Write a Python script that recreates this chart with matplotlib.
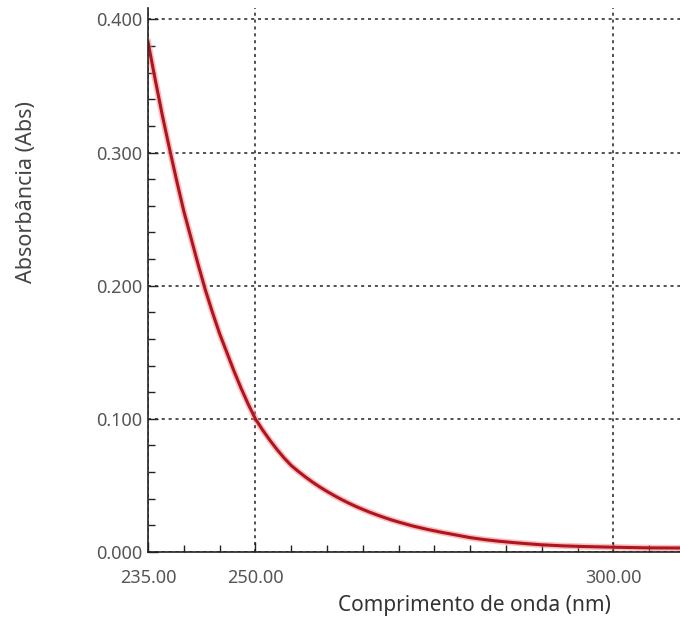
import numpy as np
import matplotlib.pyplot as plt
from matplotlib.ticker import MultipleLocator, FixedLocator

plt.rcParams['font.family'] = ['Noto Sans', 'DejaVu Sans']

# Absorbance spectrum
wavelength = [235, 236, 237, 238, 239, 240, 241, 242, 243, 244, 245, 246, 247, 248, 249,
              250, 251, 252, 253, 254, 255, 256, 257, 258, 259, 260, 261, 262, 263, 264,
              265, 266, 267, 268, 269, 270, 272, 274, 276, 278, 280, 282, 284, 286, 288,
              290, 293, 296, 300, 305, 309.5]
absorbance = [0.383, 0.355, 0.328, 0.303, 0.279, 0.256, 0.236, 0.216, 0.197, 0.180, 0.164,
              0.150, 0.136, 0.123, 0.111, 0.100, 0.0917, 0.0841, 0.0771, 0.0707, 0.065,
              0.0605, 0.0563, 0.0524, 0.0488, 0.0455, 0.0424, 0.0395, 0.0368, 0.0343,
              0.032, 0.0298, 0.0278, 0.0259, 0.0241, 0.0225, 0.0195, 0.017, 0.0148,
              0.0128, 0.0108, 0.0093, 0.0081, 0.0071, 0.0062, 0.0054, 0.0046, 0.0041,
              0.0036, 0.0031, 0.0030]

xticks = [235, 250, 300]
yticks = [0.0, 0.1, 0.2, 0.3, 0.4]

fig = plt.figure(figsize=(6.8, 6.24), dpi=100)
ax = fig.add_axes([148 / 680, 1 - 552 / 624, 1 - 148 / 680, (552 - 8) / 624])

ax.plot(wavelength, absorbance, color='#f08080', linewidth=4.5, alpha=0.5)
ax.plot(wavelength, absorbance, color='#b0141e', linewidth=2.2)

ax.set_xlim(235, 309.3)
ax.set_ylim(0, 0.4086)

ax.xaxis.set_major_locator(FixedLocator(xticks))
ax.yaxis.set_major_locator(FixedLocator(yticks))
ax.xaxis.set_minor_locator(MultipleLocator(5))
ax.yaxis.set_minor_locator(MultipleLocator(0.02))
ax.set_xticklabels([f'{v:.2f}' for v in xticks])
ax.set_yticklabels([f'{v:.3f}' for v in yticks])

ax.tick_params(which='both', direction='in', colors='#222222', labelcolor='#555555', labelsize=13)
ax.tick_params(which='major', length=7, width=1)
ax.tick_params(which='minor', length=5, width=1)
ax.tick_params(axis='x', pad=12)
ax.tick_params(axis='y', pad=4)

ax.grid(True, which='major', color='#222222', linestyle=(0, (2, 2.5)), linewidth=1.1)

for side in ['top', 'right']:
    ax.spines[side].set_visible(False)
for side in ['left', 'bottom']:
    ax.spines[side].set_color('#222222')
    ax.spines[side].set_linewidth(1.2)

fig.text(474 / 680, 1 - 605 / 624, 'Comprimento de onda (nm)', ha='center', va='center',
         fontsize=15, color='#333333')
fig.text(27 / 680, 1 - 192 / 624, 'Absorbância (Abs)', ha='center', va='center',
         rotation=90, fontsize=15.5, color='#444444')

fig.savefig('out.png', dpi=100)
